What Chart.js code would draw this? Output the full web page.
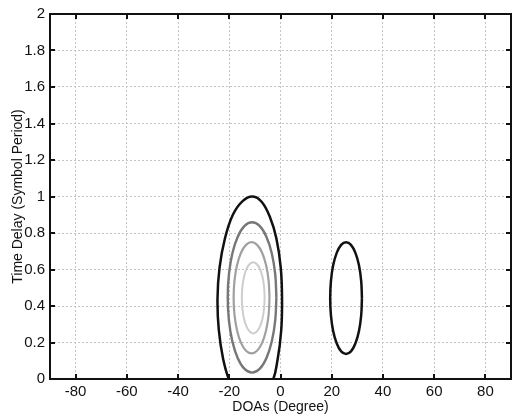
<!DOCTYPE html>
<html>
<head>
<meta charset="utf-8">
<script src="https://cdn.jsdelivr.net/npm/chart.js"></script>
<style>
  body { margin: 0; background: #fff; }
  canvas { display: block; }
</style>
</head>
<body>
<canvas id="contourChart" width="513" height="419"></canvas>
<script>
// axis ticks
const xTicks = [-80, -60, -40, -20, 0, 20, 40, 60, 80];
const yTicks = [0, 0.2, 0.4, 0.6, 0.8, 1, 1.2, 1.4, 1.6, 1.8, 2];

// contour lines (DOA in degrees, delay in symbol periods)
// outer black contour of the left peak, it runs out below the axis
const outerX = [-12, -8.1, -3.4, -1.1, 0.3, 0.6, 0.1, -1.6, -4.2, -7.3, -10.8, -14.8, -18.6, -21.7, -23.8, -24.6, -24.1, -22.4, -19.9, -16.2, -12];
const outerY = [-0.12, -0.09, -0.02, 0.11, 0.27, 0.44, 0.61, 0.77, 0.89, 0.97, 1.0, 0.975, 0.9, 0.77, 0.61, 0.44, 0.27, 0.11, -0.01, -0.09, -0.12];

// dark gray contour
const darkX = [-1.6, -2.07, -3.41, -5.51, -8.16, -11.1, -14.04, -16.69, -18.79, -20.13, -20.6, -20.13, -18.79, -16.69, -14.04, -11.1, -8.16, -5.51, -3.41, -2.07, -1.6];
const darkY = [0.447, 0.574, 0.689, 0.78, 0.839, 0.859, 0.839, 0.78, 0.689, 0.574, 0.447, 0.32, 0.205, 0.114, 0.055, 0.035, 0.055, 0.114, 0.205, 0.32, 0.447];

// mid gray contour
const midX = [-4.3, -4.64, -5.64, -7.18, -9.14, -11.3, -13.46, -15.42, -16.96, -17.96, -18.3, -17.96, -16.96, -15.42, -13.46, -11.3, -9.14, -7.18, -5.64, -4.64, -4.3];
const midY = [0.445, 0.539, 0.624, 0.692, 0.735, 0.75, 0.735, 0.692, 0.624, 0.539, 0.445, 0.351, 0.266, 0.198, 0.155, 0.14, 0.155, 0.198, 0.266, 0.351, 0.445];

// light gray inner contour
const lightX = [-6.2, -6.42, -7.05, -8.03, -9.27, -10.65, -12.03, -13.27, -14.25, -14.88, -15.1, -14.88, -14.25, -13.27, -12.03, -10.65, -9.27, -8.03, -7.05, -6.42, -6.2];
const lightY = [0.445, 0.505, 0.56, 0.603, 0.63, 0.64, 0.63, 0.603, 0.56, 0.505, 0.445, 0.385, 0.33, 0.287, 0.26, 0.25, 0.26, 0.287, 0.33, 0.385, 0.445];

// black contour of the right peak
const rightX = [31.8, 31.5, 30.62, 29.25, 27.52, 25.6, 23.68, 21.95, 20.58, 19.7, 19.4, 19.7, 20.58, 21.95, 23.68, 25.6, 27.52, 29.25, 30.62, 31.5, 31.8];
const rightY = [0.443, 0.538, 0.624, 0.691, 0.735, 0.75, 0.735, 0.691, 0.624, 0.538, 0.443, 0.348, 0.262, 0.195, 0.151, 0.137, 0.151, 0.195, 0.262, 0.348, 0.443];

function toPoints(xs, ys) {
  return xs.map((x, i) => ({ x: x, y: ys[i] }));
}

function contour(xs, ys, color, width) {
  return {
    data: toPoints(xs, ys),
    borderColor: color,
    borderWidth: width,
    showLine: true,
    pointRadius: 0,
    tension: 0.4,
    fill: false
  };
}

// MATLAB style box with inward ticks on all four sides
const boxPlugin = {
  id: 'box',
  afterDatasetsDraw(chart) {
    const { ctx, chartArea: a, scales } = chart;
    const len = 5;
    ctx.save();
    ctx.strokeStyle = '#111';
    ctx.lineWidth = 2;
    ctx.beginPath();
    xTicks.forEach(v => {
      const px = Math.round(scales.x.getPixelForValue(v));
      ctx.moveTo(px, a.bottom); ctx.lineTo(px, a.bottom - len);
      ctx.moveTo(px, a.top); ctx.lineTo(px, a.top + len);
    });
    yTicks.forEach(v => {
      const py = Math.round(scales.y.getPixelForValue(v));
      ctx.moveTo(a.left, py); ctx.lineTo(a.left + len, py);
      ctx.moveTo(a.right, py); ctx.lineTo(a.right - len, py);
    });
    ctx.stroke();
    ctx.strokeRect(a.left, a.top, a.right - a.left, a.bottom - a.top);
    ctx.restore();
  }
};

const fontFamily = '"Liberation Sans", Arial, Helvetica, sans-serif';

new Chart(document.getElementById('contourChart'), {
  type: 'scatter',
  data: {
    datasets: [
      contour(lightX, lightY, '#cdcdcd', 2),
      contour(midX, midY, '#a0a0a0', 2.2),
      contour(darkX, darkY, '#777777', 2.4),
      contour(outerX, outerY, '#111111', 2.5),
      contour(rightX, rightY, '#111111', 2.5)
    ]
  },
  options: {
    responsive: false,
    animation: false,
    layout: { padding: { top: 14, right: 2, left: 0, bottom: 0 } },
    elements: { line: { capBezierPoints: false } },
    plugins: {
      legend: { display: false },
      tooltip: { enabled: false }
    },
    scales: {
      x: {
        type: 'linear',
        min: -90,
        max: 90,
        afterBuildTicks: scale => { scale.ticks = xTicks.map(v => ({ value: v })); },
        afterFit: scale => { scale.height = 40; },
        grid: { color: '#c4c4c4', lineWidth: 1, drawTicks: false },
        border: { display: false, dash: [2, 2] },
        ticks: {
          padding: 4,
          color: '#111',
          font: { family: fontFamily, size: 15 },
          maxRotation: 0,
          callback: v => String(v)
        },
        title: {
          display: true,
          text: 'DOAs (Degree)',
          color: '#111',
          font: { family: fontFamily, size: 14 },
          padding: { top: 0, bottom: 3 }
        }
      },
      y: {
        type: 'linear',
        min: 0,
        max: 2,
        afterBuildTicks: scale => { scale.ticks = yTicks.map(v => ({ value: v })); },
        afterFit: scale => { scale.width = 50; },
        grid: { color: '#c4c4c4', lineWidth: 1, drawTicks: false },
        border: { display: false, dash: [2, 2] },
        ticks: {
          padding: 5,
          color: '#111',
          font: { family: fontFamily, size: 15 },
          callback: v => String(v)
        },
        title: {
          display: true,
          text: 'Time Delay (Symbol Period)',
          color: '#111',
          font: { family: fontFamily, size: 14 },
          padding: { top: 10, bottom: 0 }
        }
      }
    }
  },
  plugins: [boxPlugin]
});
</script>
</body>
</html>
